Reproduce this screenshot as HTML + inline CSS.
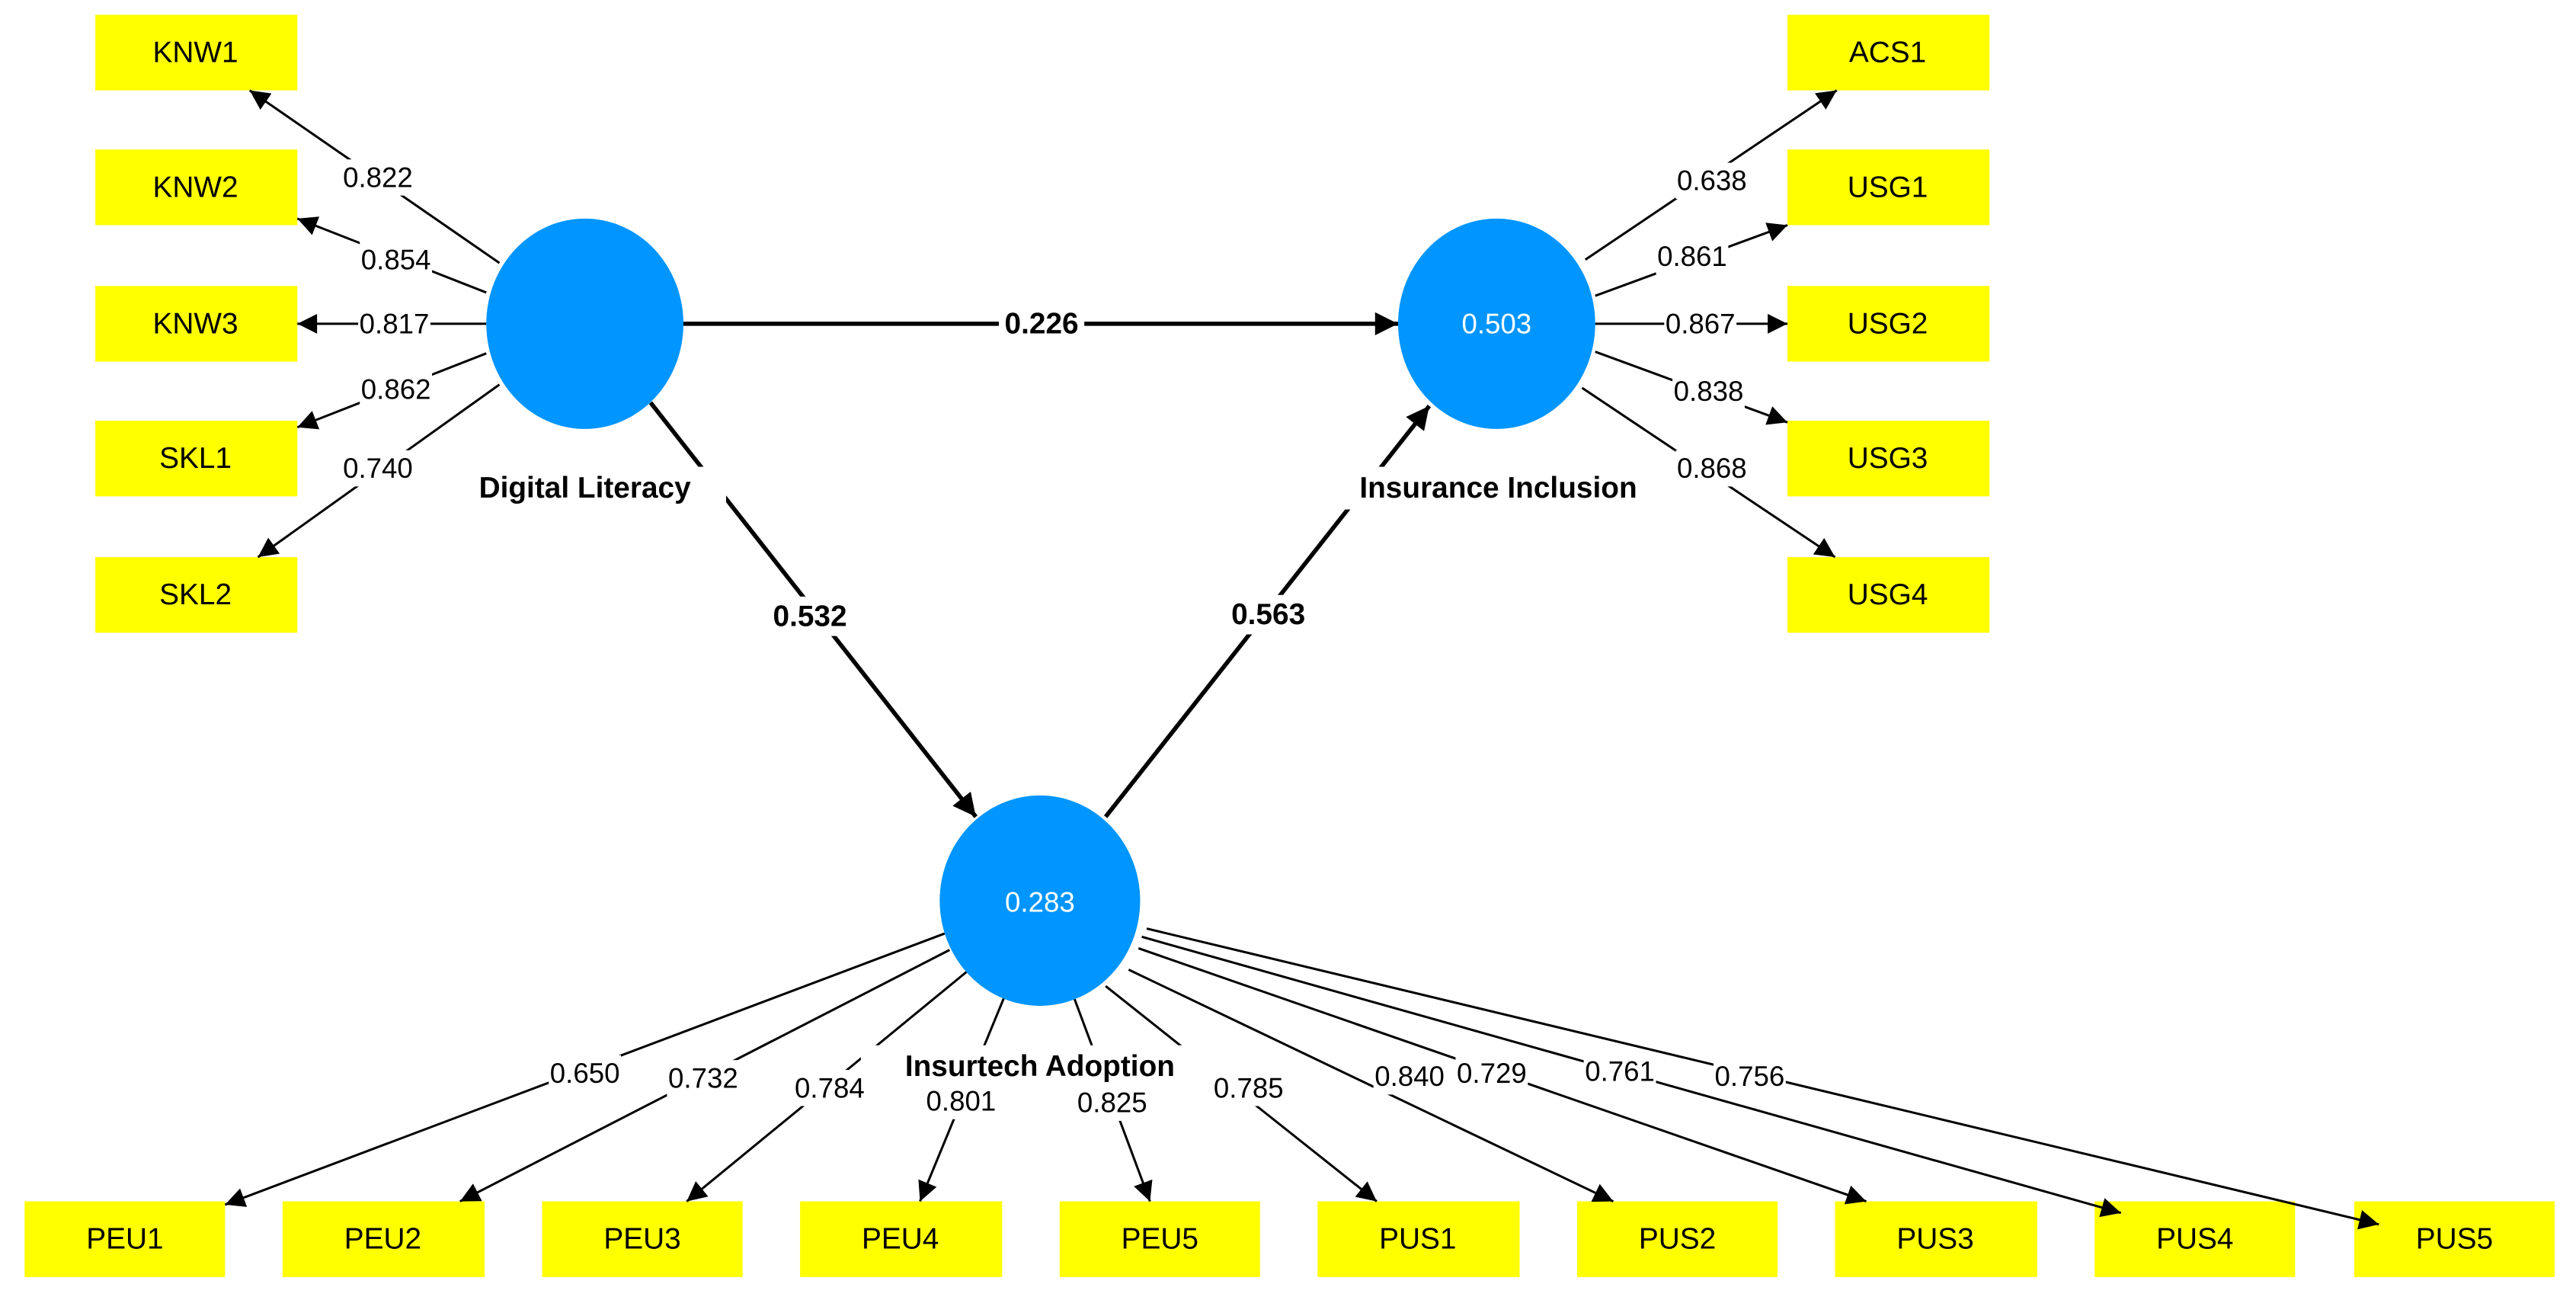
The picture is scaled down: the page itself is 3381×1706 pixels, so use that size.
<!DOCTYPE html>
<html><head><meta charset="utf-8"><style>html,body{margin:0;padding:0;background:#fff}svg{display:block}</style></head>
<body>
<svg width="3381" height="1706" viewBox="0 0 1568 791" preserveAspectRatio="none" xmlns="http://www.w3.org/2000/svg" font-family="Liberation Sans, Arial, sans-serif">
<defs>
<marker id="a" viewBox="0 0 10 10" refX="10" refY="5" markerWidth="16" markerHeight="12" markerUnits="userSpaceOnUse" orient="auto"><path d="M0,0L10,5L0,10z" fill="#000"/></marker>
<marker id="b" viewBox="0 0 10 10" refX="10" refY="5" markerWidth="18" markerHeight="14" markerUnits="userSpaceOnUse" orient="auto"><path d="M0,0L10,5L0,10z" fill="#000"/></marker>
</defs>
<g fill="#ffff00">
<rect x="58" y="9" width="123" height="46"/><rect x="58" y="91" width="123" height="46"/><rect x="58" y="174" width="123" height="46"/><rect x="58" y="256" width="123" height="46"/><rect x="58" y="339" width="123" height="46"/>
<rect x="1088" y="9" width="123" height="46"/><rect x="1088" y="91" width="123" height="46"/><rect x="1088" y="174" width="123" height="46"/><rect x="1088" y="256" width="123" height="46"/><rect x="1088" y="339" width="123" height="46"/>
<rect x="15" y="731" width="122" height="46"/><rect x="172" y="731" width="123" height="46"/><rect x="330" y="731" width="122" height="46"/><rect x="487" y="731" width="123" height="46"/><rect x="645" y="731" width="122" height="46"/><rect x="802" y="731" width="123" height="46"/><rect x="960" y="731" width="122" height="46"/><rect x="1117" y="731" width="123" height="46"/><rect x="1275" y="731" width="122" height="46"/><rect x="1433" y="731" width="122" height="46"/>
</g>
<g stroke="#000" stroke-width="1.4" marker-end="url(#a)">
<line x1="304" y1="160" x2="152" y2="55"/><line x1="296" y1="178" x2="181" y2="133"/><line x1="296" y1="197" x2="181" y2="197"/><line x1="296" y1="215" x2="181" y2="260"/><line x1="304" y1="234" x2="157" y2="339"/>
<line x1="965" y1="158" x2="1118" y2="55"/><line x1="971" y1="180" x2="1088" y2="137"/><line x1="971" y1="197" x2="1088" y2="197"/><line x1="971" y1="214" x2="1088" y2="257"/><line x1="963" y1="236" x2="1117" y2="339"/>
<line x1="575" y1="568" x2="137" y2="733"/><line x1="578" y1="578" x2="280" y2="731"/><line x1="590" y1="590" x2="418" y2="731"/><line x1="612" y1="605" x2="560" y2="731"/><line x1="653" y1="605" x2="700" y2="731"/><line x1="673" y1="600" x2="838" y2="731"/><line x1="687" y1="590" x2="982" y2="731"/><line x1="693" y1="577" x2="1136" y2="731"/><line x1="695" y1="570" x2="1291" y2="738"/><line x1="698" y1="565" x2="1448" y2="745"/>
</g>
<g stroke="#000" stroke-width="2.6" marker-end="url(#b)">
<line x1="416" y1="197" x2="851" y2="197"/><line x1="396" y1="245" x2="594" y2="497"/><line x1="673" y1="497" x2="870" y2="247"/>
</g>
<g fill="#0095ff">
<ellipse cx="356" cy="197" rx="60" ry="64"/><ellipse cx="911" cy="197" rx="60" ry="64"/><ellipse cx="633" cy="548" rx="61" ry="64"/>
</g>
<g fill="#fff">
<rect x="208" y="97" width="44" height="22"/><rect x="219" y="147" width="44" height="22"/><rect x="218" y="186" width="44" height="22"/><rect x="219" y="226" width="44" height="22"/><rect x="208" y="274" width="44" height="22"/>
<rect x="1020" y="99" width="44" height="22"/><rect x="1008" y="145" width="44" height="22"/><rect x="1013" y="186" width="44" height="22"/><rect x="1018" y="227" width="44" height="22"/><rect x="1020" y="274" width="44" height="22"/>
<rect x="334" y="642" width="44" height="22"/><rect x="406" y="645" width="44" height="22"/><rect x="483" y="651" width="44" height="22"/><rect x="563" y="659" width="44" height="22"/><rect x="655" y="660" width="44" height="22"/><rect x="738" y="651" width="44" height="22"/><rect x="836" y="644" width="44" height="22"/><rect x="886" y="642" width="44" height="22"/><rect x="964" y="641" width="44" height="22"/><rect x="1043" y="644" width="44" height="22"/>
<rect x="608" y="186" width="52" height="22"/><rect x="466" y="363" width="54" height="24"/><rect x="745" y="362" width="54" height="24"/>
<rect x="270" y="284" width="172" height="26"/><rect x="800" y="284" width="218" height="26"/><rect x="524" y="636" width="218" height="26"/>
</g>
<g font-size="18" text-anchor="middle" dominant-baseline="central" fill="#000">
<text x="119" y="32">KNW1</text><text x="119" y="114">KNW2</text><text x="119" y="197">KNW3</text><text x="119" y="279">SKL1</text><text x="119" y="362">SKL2</text>
<text x="1149" y="32">ACS1</text><text x="1149" y="114">USG1</text><text x="1149" y="197">USG2</text><text x="1149" y="279">USG3</text><text x="1149" y="362">USG4</text>
<text x="76" y="754">PEU1</text><text x="233" y="754">PEU2</text><text x="391" y="754">PEU3</text><text x="548" y="754">PEU4</text><text x="706" y="754">PEU5</text><text x="863" y="754">PUS1</text><text x="1021" y="754">PUS2</text><text x="1178" y="754">PUS3</text><text x="1336" y="754">PUS4</text><text x="1494" y="754">PUS5</text>
</g>
<g font-size="17" text-anchor="middle" dominant-baseline="central" fill="#000">
<text x="230" y="108">0.822</text><text x="241" y="158">0.854</text><text x="240" y="197">0.817</text><text x="241" y="237">0.862</text><text x="230" y="285">0.740</text>
<text x="1042" y="110">0.638</text><text x="1030" y="156">0.861</text><text x="1035" y="197">0.867</text><text x="1040" y="238">0.838</text><text x="1042" y="285">0.868</text>
<text x="356" y="653">0.650</text><text x="428" y="656">0.732</text><text x="505" y="662">0.784</text><text x="585" y="670">0.801</text><text x="677" y="671">0.825</text><text x="760" y="662">0.785</text><text x="858" y="655">0.840</text><text x="908" y="653">0.729</text><text x="986" y="652">0.761</text><text x="1065" y="655">0.756</text>
</g>
<g font-size="18" font-weight="bold" text-anchor="middle" dominant-baseline="central" fill="#000">
<text x="634" y="197">0.226</text><text x="493" y="375">0.532</text><text x="772" y="374">0.563</text>
<text x="356" y="297">Digital Literacy</text><text x="912" y="297">Insurance Inclusion</text><text x="633" y="649">Insurtech Adoption</text>
</g>
<g font-size="17" text-anchor="middle" dominant-baseline="central" fill="#fff">
<text x="911" y="197">0.503</text><text x="633" y="549">0.283</text>
</g>
</svg>
</body></html>
